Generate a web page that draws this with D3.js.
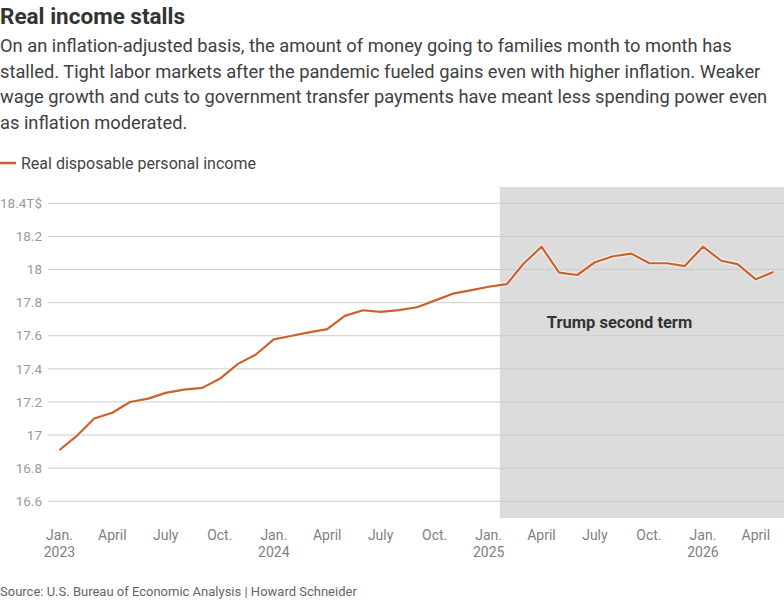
<!DOCTYPE html>
<html lang="en">
  <head>
    <meta charset="UTF-8" />
    <title>Real income stalls</title>
    <script src="https://cdn.jsdelivr.net/npm/d3@7"></script>
    <style>
      body {
        margin: 0;
        background: #fff;
        font-family: Roboto, "Noto Sans", sans-serif;
      }
    </style>
  </head>
  <body>
    <div id="chart"></div>
    <script>
      const width = 784;
      const height = 600;

      const title = "Real income stalls";
      const subtitle = [
        "On an inflation-adjusted basis, the amount of money going to families month to month has",
        "stalled. Tight labor markets after the pandemic fueled gains even with higher inflation. Weaker",
        "wage growth and cuts to government transfer payments have meant less spending power even",
        "as inflation moderated.",
      ];
      const seriesName = "Real disposable personal income";
      const source = "Source: U.S. Bureau of Economic Analysis | Howard Schneider";
      const shadeLabel = "Trump second term";
      const shadeStart = "2025-01-20";

      // monthly, trillions of chained dollars
      const months = [
        "2023-01", "2023-02", "2023-03", "2023-04", "2023-05", "2023-06",
        "2023-07", "2023-08", "2023-09", "2023-10", "2023-11", "2023-12",
        "2024-01", "2024-02", "2024-03", "2024-04", "2024-05", "2024-06",
        "2024-07", "2024-08", "2024-09", "2024-10", "2024-11", "2024-12",
        "2025-01", "2025-02", "2025-03", "2025-04", "2025-05", "2025-06",
        "2025-07", "2025-08", "2025-09", "2025-10", "2025-11", "2025-12",
        "2026-01", "2026-02", "2026-03", "2026-04", "2026-05",
      ];
      const income = [
        16.91, 17.0, 17.1, 17.135, 17.2, 17.22,
        17.255, 17.275, 17.285, 17.34, 17.43, 17.485,
        17.578, 17.6, 17.62, 17.64, 17.72, 17.754,
        17.744, 17.755, 17.772, 17.812, 17.854, 17.874,
        17.896, 17.912, 18.033, 18.138, 17.981, 17.967,
        18.044, 18.08, 18.096, 18.039, 18.038, 18.021,
        18.138, 18.053, 18.033, 17.941, 17.985,
      ];
      const yTicks = [16.6, 16.8, 17, 17.2, 17.4, 17.6, 17.8, 18, 18.2, 18.4];
      const monthNames = { 0: "Jan.", 3: "April", 6: "July", 9: "Oct." };

      const parseMonth = d3.timeParse("%Y-%m");
      const data = months.map((m, i) => ({ date: parseMonth(m), value: income[i] }));

      const svg = d3
        .select("#chart")
        .append("svg")
        .attr("width", width)
        .attr("height", height);

      // header
      svg
        .append("text")
        .attr("x", 0)
        .attr("y", 24)
        .attr("fill", "#333")
        .style("font-size", "22.5px")
        .style("font-weight", 700)
        .text(title);

      svg
        .append("g")
        .selectAll("text")
        .data(subtitle)
        .join("text")
        .attr("x", 0)
        .attr("y", (d, i) => 52 + i * 25.5)
        .attr("fill", "#404040")
        .style("font-size", "18.3px")
        .text((d) => d);

      const legend = svg.append("g").attr("transform", "translate(0,163)");
      legend
        .append("line")
        .attr("x1", 0)
        .attr("x2", 16)
        .attr("stroke", "#c9622c")
        .attr("stroke-width", 2.5);
      legend
        .append("text")
        .attr("x", 21)
        .attr("y", 5.5)
        .attr("fill", "#444")
        .style("font-size", "16px")
        .text(seriesName);

      // scales
      const x = d3
        .scaleTime()
        .domain([data[0].date, data[data.length - 1].date])
        .range([59.5, 773.4]);
      const y = d3.scaleLinear().domain([16.6, 18.4]).range([501.3, 203.3]);

      // shaded period
      const shadeX = x(d3.timeParse("%Y-%m-%d")(shadeStart));
      svg
        .append("rect")
        .attr("x", shadeX)
        .attr("y", 187)
        .attr("width", width - shadeX)
        .attr("height", 331)
        .attr("fill", "#dcdcdc");

      // y grid + labels
      const yAxis = svg.append("g");
      yAxis
        .selectAll("line")
        .data(yTicks)
        .join("line")
        .attr("x1", 48)
        .attr("x2", width)
        .attr("y1", (d) => y(d))
        .attr("y2", (d) => y(d))
        .attr("stroke", "#cccccc")
        .attr("stroke-width", 1);
      yAxis
        .selectAll("text")
        .data(yTicks)
        .join("text")
        .attr("x", 42)
        .attr("y", (d) => y(d))
        .attr("dy", "0.35em")
        .attr("text-anchor", "end")
        .attr("fill", "#9a9a9a")
        .style("font-size", "13.5px")
        .text((d) => (d === 18.4 ? d + "T$" : String(d)));

      svg
        .append("text")
        .attr("x", shadeX + 47)
        .attr("y", y(17.647))
        .attr("fill", "#333")
        .style("font-size", "16.5px")
        .style("font-weight", 700)
        .text(shadeLabel);

      // x axis labels
      const xTicks = x.ticks(d3.timeMonth.every(3));
      const xAxis = svg
        .append("g")
        .selectAll("text")
        .data(xTicks)
        .join("text")
        .attr("text-anchor", "middle")
        .attr("fill", "#808080")
        .style("font-size", "14px");
      xAxis
        .append("tspan")
        .attr("x", (d) => x(d))
        .attr("y", 540)
        .text((d) => monthNames[d.getMonth()]);
      xAxis
        .filter((d) => d.getMonth() === 0)
        .append("tspan")
        .attr("x", (d) => x(d))
        .attr("y", 557)
        .text((d) => d.getFullYear());

      // line
      const line = d3
        .line()
        .x((d) => x(d.date))
        .y((d) => y(d.value));

      svg
        .append("path")
        .datum(data)
        .attr("fill", "none")
        .attr("stroke", "rgba(255,255,255,0.6)")
        .attr("stroke-width", 4.5)
        .attr("stroke-linejoin", "round")
        .attr("d", line);

      svg
        .append("path")
        .datum(data)
        .attr("fill", "none")
        .attr("stroke", "#c9622c")
        .attr("stroke-width", 2.2)
        .attr("stroke-linejoin", "round")
        .attr("d", line);

      svg
        .append("text")
        .attr("x", 0)
        .attr("y", 596)
        .attr("fill", "#666")
        .style("font-size", "13px")
        .text(source);
    </script>
  </body>
</html>
